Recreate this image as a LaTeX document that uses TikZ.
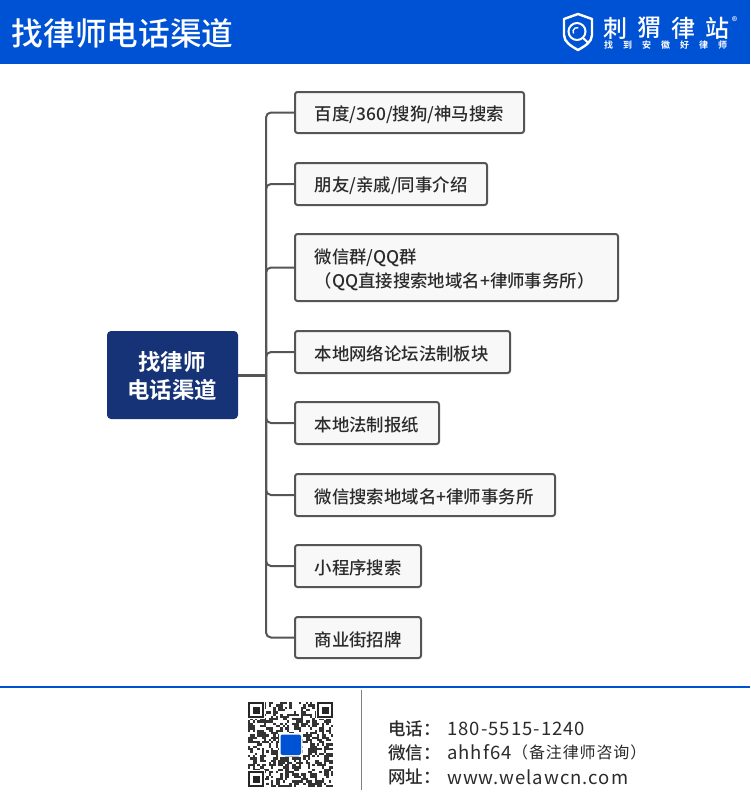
\documentclass[tikz,border=0pt]{standalone}
\usepackage{fontspec}
\setmainfont{Noto Sans CJK SC Medium}
\newfontfamily\cjkbold{Noto Sans CJK SC Bold}
\newfontfamily\cjkspaced[LetterSpace=5.5]{Noto Sans CJK SC}
\definecolor{headblue}{HTML}{0052D4}
\definecolor{rootblue}{HTML}{163377}
\definecolor{linegray}{HTML}{555555}
\definecolor{boxfill}{HTML}{F8F8F8}
\definecolor{textgray}{HTML}{2B2B2B}
\tikzset{
  itembox/.style={draw=linegray,line width=2pt,fill=boxfill,rounded corners=2.5pt,inner sep=0pt,outer sep=0pt,anchor=north west},
  itemtext/.style={anchor=west,inner sep=0pt,align=left,text=textgray,font=\fontsize{17.4}{24}\selectfont},
  branch/.style={draw=linegray,line width=2pt,rounded corners=5pt},
  foottext/.style={anchor=west,inner sep=0pt,text=textgray,font=\fontsize{17.5}{24}\selectfont},
  footvalue/.style={anchor=west,inner sep=0pt,text=textgray,font=\cjkspaced\fontsize{18.5}{24}\selectfont},
  logotext/.style={white,inner sep=0pt,font=\fontsize{24}{24}\selectfont},
}
\begin{document}
\begin{tikzpicture}[x=1pt,y=-1pt]
  \useasboundingbox (0,0) rectangle (750,800);
  \fill[white] (0,0) rectangle (750,800);
  \fill[headblue] (0,0) rectangle (750,64);
  \node[white,anchor=west,inner sep=0pt,font=\fontsize{31.7}{36}\selectfont] (title) at (11.5,33) {找律师电话渠道};

  % logo
  \draw[white,line width=2.4pt,line join=round] (578,14) -- (592,19) -- (592,35) .. controls (592,42) and (585,46) .. (578,50)
    .. controls (571,46) and (564,42) .. (564,35) -- (564,19) -- cycle;
  \draw[white,line width=2pt] (577,31.5) circle (8.5);
  \draw[white,line width=1.4pt] (577,31.5) ++(150:4) arc (150:290:4);
  \draw[white,line width=2pt] (583,38) -- (589,43.5);
  \node[logotext] (logo1) at (615.5,28) {刺};
  \node[logotext] (logo2) at (649.5,28) {猬};
  \node[logotext] (logo3) at (683,28) {律};
  \node[logotext] (logo4) at (717,28) {站};
  \node[white,inner sep=0pt,font=\fontsize{11}{11}\selectfont] (logor) at (734.5,21) {®};
  \foreach \ch [count=\i from 0] in {找,到,安,徽,好,律,师}
    \node[white,inner sep=0pt,font=\cjkbold\fontsize{9}{9}\selectfont] (sub\i) at ({608.5+\i*19},45.5) {\ch};

  % items
  \node[itembox,minimum width=229pt,minimum height=41pt] (a1) at (295,92) {}; \node[itemtext] (a1t) at ([xshift=19.5pt,yshift=-2pt]a1.west) {百度/360/搜狗/神马搜索};
  \node[itembox,minimum width=192pt,minimum height=42pt] (a2) at (295,163) {}; \node[itemtext] (a2t) at ([xshift=19.5pt,yshift=-2pt]a2.west) {朋友/亲戚/同事介绍};
  \node[itembox,minimum width=323pt,minimum height=67pt] (a3) at (295,234) {}; \node[itemtext] (a3t) at ([xshift=19.5pt,yshift=-2pt]a3.west) {微信群/QQ群\\ （QQ直接搜索地域名+律师事务所）};
  \node[itembox,minimum width=215pt,minimum height=42pt] (a4) at (295,331) {}; \node[itemtext] (a4t) at ([xshift=19.5pt,yshift=-2pt]a4.west) {本地网络论坛法制板块};
  \node[itembox,minimum width=144pt,minimum height=42pt] (a5) at (295,402) {}; \node[itemtext] (a5t) at ([xshift=19.5pt,yshift=-2pt]a5.west) {本地法制报纸};
  \node[itembox,minimum width=260pt,minimum height=42pt] (a6) at (295,474) {}; \node[itemtext] (a6t) at ([xshift=19.5pt,yshift=-2pt]a6.west) {微信搜索地域名+律师事务所};
  \node[itembox,minimum width=126pt,minimum height=42pt] (a7) at (295,545) {}; \node[itemtext] (a7t) at ([xshift=19.5pt,yshift=-2pt]a7.west) {小程序搜索};
  \node[itembox,minimum width=126pt,minimum height=41pt] (a8) at (295,617) {}; \node[itemtext] (a8t) at ([xshift=19.5pt,yshift=-2pt]a8.west) {商业街招牌};

  % root
  \node[fill=rootblue,rounded corners=4pt,anchor=north west,minimum width=131pt,minimum height=88pt,inner sep=0pt,outer sep=0pt] (root) at (107,331) {};
  \node[white,align=center,inner sep=0pt,font=\cjkbold\fontsize{22.4}{28}\selectfont] (rootlabel) at ([xshift=-0.5pt,yshift=-1pt]root.center) {找律师\\电话渠道};
  \coordinate (trunk) at ([xshift=28pt]root.east);

  \draw[linegray,line width=3pt] (root) -- (trunk);
  \foreach \n in {a1,a2,a3,a4,a5,a6,a7,a8}
    \draw[branch] (trunk) |- (\n.west);

  % footer
  \draw[headblue,line width=2pt] (0,687) -- (750,687);
  \draw[gray,line width=1pt] (361.5,690) -- (361.5,790);
  \begin{scope}[shift={(248,702)}]
    \pgfmathsetseed{64}
    \foreach \r in {0,...,36}
      \foreach \c in {0,...,36}{
        \pgfmathparse{rnd}
        \ifdim\pgfmathresult pt<0.5pt
          \fill[black!80] ({\c*2.3},{\r*2.3}) rectangle ++(2.3,2.3);
        \fi
      }
    \foreach \px/\py in {0/0,69/0,0/69}{
      \fill[white] (\px-1,\py-1) rectangle ++(18,18);
      \fill[black!85] (\px,\py) rectangle ++(16.1,16.1);
      \fill[white] (\px+2.3,\py+2.3) rectangle ++(11.5,11.5);
      \fill[black!85] (\px+4.6,\py+4.6) rectangle ++(6.9,6.9);
    }
    \fill[white,rounded corners=2pt] (31,31) rectangle ++(23.5,23.5);
    \fill[headblue,rounded corners=2pt] (32.5,32.5) rectangle ++(20.5,20.5);
  \end{scope}
  \node[foottext] (tel) at (388,728.5) {电话：};
  \node[foottext] (wx) at (388,752.5) {微信：};
  \node[foottext] (web) at (388,777) {网址：};
  \node[footvalue] (telv) at (447,728.5) {180-5515-1240};
  \node[footvalue] (wxv) at (447,752.5) {ahhf64};
  \node[anchor=west,inner sep=0pt,text=textgray,font=\cjkspaced\fontsize{16}{24}\selectfont] (wxn) at (512,752.5) {（备注律师咨询）};
  \node[footvalue] (webv) at (447,777) {www.welawcn.com};
\end{tikzpicture}
\end{document}
